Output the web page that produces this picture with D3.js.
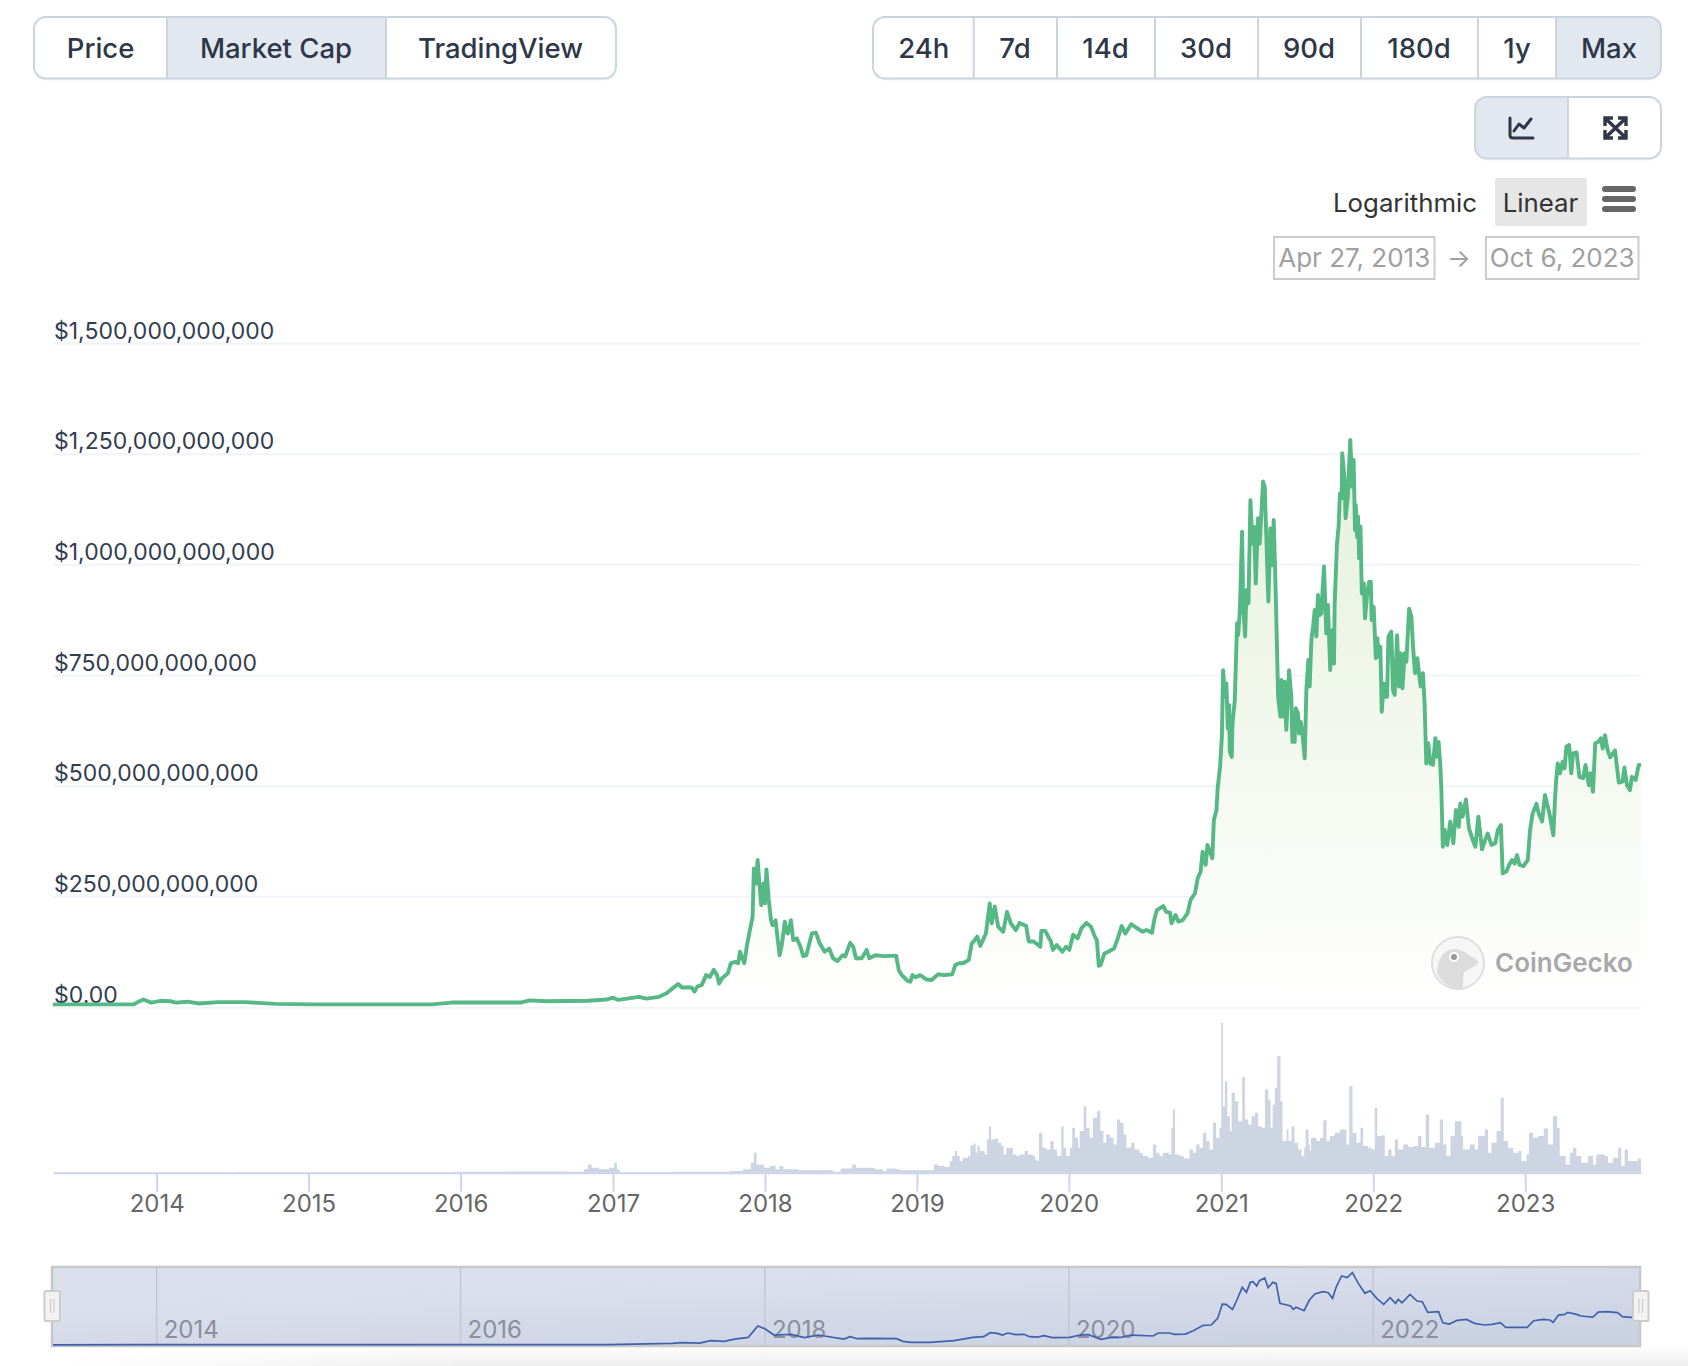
<!DOCTYPE html>
<html>
<head>
<meta charset="utf-8">
<title>Bitcoin market cap</title>
<script src="https://cdn.jsdelivr.net/npm/d3@7"></script>
<style>
    html, body { margin: 0; background: #fff; }
    svg { display: block; font-family: Inter, "Noto Sans", sans-serif; }
</style>
</head>
<body>
<svg id="chart" width="1688" height="1366"></svg>
<script>
/* Market cap: time in decimal years, values in billions of USD */
var capYears = [
    2013.318, 2013.851, 2013.881, 2013.913, 2013.964, 2014.027, 2014.090, 2014.127, 2014.203, 2014.278,
    2014.404, 2014.580, 2014.781, 2015.033, 2015.612, 2015.813, 2015.939, 2016.392, 2016.455, 2016.568,
    2016.838, 2016.963, 2017.001, 2017.034, 2017.114, 2017.170, 2017.220, 2017.303, 2017.353, 2017.391,
    2017.429, 2017.454, 2017.517, 2017.537, 2017.555, 2017.585, 2017.613, 2017.638, 2017.663, 2017.685,
    2017.698, 2017.718, 2017.756, 2017.776, 2017.806, 2017.824, 2017.836, 2017.864, 2017.882, 2017.899,
    2017.919, 2017.927, 2017.940, 2017.952, 2017.965, 2017.975, 2017.990, 2018.000, 2018.010, 2018.025,
    2018.040, 2018.050, 2018.070, 2018.096, 2018.111, 2018.131, 2018.141, 2018.151, 2018.171, 2018.186,
    2018.209, 2018.234, 2018.252, 2018.272, 2018.309, 2018.335, 2018.360, 2018.393, 2018.423, 2018.448,
    2018.478, 2018.511, 2018.528, 2018.561, 2018.581, 2018.599, 2018.637, 2018.669, 2018.687, 2018.725,
    2018.787, 2018.863, 2018.881, 2018.901, 2018.938, 2018.956, 2018.971, 2018.989, 2019.022, 2019.064,
    2019.097, 2019.140, 2019.178, 2019.233, 2019.253, 2019.278, 2019.303, 2019.341, 2019.361, 2019.374,
    2019.397, 2019.417, 2019.454, 2019.479, 2019.492, 2019.512, 2019.535, 2019.568, 2019.593, 2019.618,
    2019.651, 2019.676, 2019.719, 2019.736, 2019.769, 2019.812, 2019.819, 2019.844, 2019.882, 2019.895,
    2019.920, 2019.957, 2019.982, 2020.003, 2020.028, 2020.058, 2020.083, 2020.116, 2020.146, 2020.171,
    2020.184, 2020.197, 2020.209, 2020.234, 2020.259, 2020.297, 2020.322, 2020.347, 2020.372, 2020.410,
    2020.448, 2020.485, 2020.510, 2020.547, 2020.564, 2020.579, 2020.621, 2020.641, 2020.666, 2020.675,
    2020.702, 2020.720, 2020.749, 2020.781, 2020.801, 2020.830, 2020.848, 2020.867, 2020.880, 2020.900,
    2020.912, 2020.944, 2020.954, 2020.971, 2020.979, 2020.995, 2021.004, 2021.012, 2021.025, 2021.034,
    2021.043, 2021.052, 2021.056, 2021.069, 2021.074, 2021.089, 2021.104, 2021.111, 2021.122, 2021.137,
    2021.144, 2021.157, 2021.166, 2021.179, 2021.192, 2021.205, 2021.216, 2021.227, 2021.242, 2021.253,
    2021.275, 2021.286, 2021.310, 2021.323, 2021.334, 2021.345, 2021.358, 2021.374, 2021.389, 2021.396,
    2021.407, 2021.417, 2021.428, 2021.446, 2021.461, 2021.468, 2021.483, 2021.490, 2021.505, 2021.512,
    2021.523, 2021.534, 2021.549, 2021.560, 2021.573, 2021.582, 2021.593, 2021.604, 2021.615, 2021.626,
    2021.636, 2021.647, 2021.658, 2021.676, 2021.691, 2021.702, 2021.717, 2021.731, 2021.742, 2021.746,
    2021.761, 2021.772, 2021.781, 2021.792, 2021.796, 2021.812, 2021.818, 2021.833, 2021.849, 2021.862,
    2021.871, 2021.880, 2021.885, 2021.894, 2021.900, 2021.907, 2021.916, 2021.925, 2021.938, 2021.946,
    2021.960, 2021.973, 2021.984, 2021.990, 2022.003, 2022.017, 2022.027, 2022.038, 2022.047, 2022.056,
    2022.069, 2022.078, 2022.091, 2022.100, 2022.119, 2022.130, 2022.141, 2022.157, 2022.170, 2022.181,
    2022.192, 2022.207, 2022.218, 2022.236, 2022.251, 2022.262, 2022.275, 2022.290, 2022.301, 2022.312,
    2022.327, 2022.338, 2022.349, 2022.362, 2022.376, 2022.393, 2022.409, 2022.420, 2022.430, 2022.441,
    2022.448, 2022.458, 2022.470, 2022.487, 2022.507, 2022.527, 2022.544, 2022.563, 2022.573, 2022.588,
    2022.610, 2022.630, 2022.655, 2022.672, 2022.692, 2022.716, 2022.736, 2022.753, 2022.778, 2022.803,
    2022.820, 2022.840, 2022.852, 2022.876, 2022.894, 2022.914, 2022.931, 2022.946, 2022.963, 2022.988,
    2023.017, 2023.032, 2023.049, 2023.074, 2023.086, 2023.111, 2023.130, 2023.148, 2023.160, 2023.185,
    2023.197, 2023.204, 2023.214, 2023.229, 2023.246, 2023.259, 2023.271, 2023.289, 2023.303, 2023.315,
    2023.338, 2023.357, 2023.382, 2023.397, 2023.419, 2023.431, 2023.446, 2023.461, 2023.481, 2023.498,
    2023.510, 2023.525, 2023.542, 2023.559, 2023.591, 2023.616, 2023.640, 2023.653, 2023.670, 2023.690,
    2023.702, 2023.727, 2023.747, 2023.762
];
var capValues = [
    6, 6, 12, 17, 10, 14, 13, 10, 12, 8,
    11, 11, 7, 6, 6, 6, 10, 10, 15, 13,
    14, 17, 21, 16, 20, 23, 19, 23, 31, 42,
    52, 44, 44, 35, 46, 50, 72, 68, 84, 72,
    53, 65, 76, 99, 102, 99, 125, 99, 140, 170,
    204, 313, 279, 332, 272, 230, 279, 234, 311, 242,
    196, 185, 196, 117, 140, 193, 170, 166, 196, 151,
    155, 136, 115, 117, 166, 168, 144, 125, 132, 110,
    104, 117, 114, 145, 136, 110, 110, 129, 110, 117,
    115, 116, 83, 72, 59, 57, 72, 67, 72, 62,
    61, 74, 72, 74, 95, 99, 99, 106, 144, 148,
    159, 138, 166, 234, 189, 227, 181, 170, 215, 189,
    174, 190, 183, 148, 148, 136, 172, 172, 148, 129,
    140, 125, 136, 129, 163, 155, 178, 190, 181, 159,
    151, 93, 95, 121, 125, 132, 155, 183, 166, 187,
    178, 170, 174, 168, 200, 219, 228, 215, 213, 189,
    208, 193, 196, 212, 242, 257, 291, 306, 351, 321,
    366, 336, 422, 445, 494, 543, 611, 761, 701, 731,
    629, 682, 577, 565, 641, 693, 867, 840, 893, 1074,
    912, 837, 942, 912, 1145, 1047, 1085, 957, 1104, 1047,
    1187, 1175, 916, 1081, 998, 1100, 942, 701, 656, 739,
    656, 735, 626, 761, 701, 599, 599, 675, 663, 618,
    644, 618, 562, 716, 784, 724, 829, 859, 897, 837,
    931, 885, 889, 995, 844, 908, 761, 852, 776, 908,
    1044, 1085, 1160, 1149, 1251, 1190, 1104, 1153, 1281, 1175,
    1236, 1077, 1134, 1062, 1108, 1014, 1085, 934, 957, 878,
    934, 961, 961, 874, 904, 788, 833, 791, 814, 667,
    731, 701, 701, 837, 848, 716, 705, 840, 724, 799,
    720, 799, 780, 900, 882, 814, 754, 788, 754, 724,
    754, 686, 550, 596, 550, 547, 607, 565, 599, 550,
    494, 362, 400, 366, 419, 370, 445, 407, 460, 430,
    469, 404, 377, 362, 430, 356, 377, 392, 366, 370,
    400, 411, 302, 306, 321, 332, 324, 343, 321, 318,
    332, 400, 437, 459, 441, 419, 479, 453, 437, 388,
    475, 513, 550, 528, 554, 539, 588, 592, 528, 573,
    575, 520, 517, 547, 501, 528, 486, 596, 599, 607,
    584, 614, 581, 564, 580, 507, 509, 541, 501, 490,
    520, 513, 547, 547
];

/* Trading volume, billions of USD, each value holds until the next time */
var volYears = [
    2013.318, 2014.530, 2014.550, 2015.950, 2016.300, 2016.700, 2016.762, 2016.812, 2016.838, 2016.863,
    2016.913, 2016.976, 2017.009, 2017.026, 2017.044, 2017.391, 2017.768, 2017.856, 2017.907, 2017.927,
    2017.945, 2017.995, 2018.033, 2018.070, 2018.096, 2018.121, 2018.221, 2018.448, 2018.498, 2018.574,
    2018.599, 2018.725, 2018.775, 2018.800, 2018.863, 2018.887, 2018.975, 2019.095, 2019.111, 2019.139,
    2019.183, 2019.216, 2019.233, 2019.249, 2019.264, 2019.282, 2019.303, 2019.336, 2019.352, 2019.374,
    2019.387, 2019.398, 2019.413, 2019.446, 2019.461, 2019.474, 2019.488, 2019.512, 2019.534, 2019.556,
    2019.571, 2019.588, 2019.621, 2019.632, 2019.654, 2019.676, 2019.709, 2019.731, 2019.764, 2019.777,
    2019.790, 2019.803, 2019.825, 2019.851, 2019.878, 2019.900, 2019.922, 2019.950, 2019.965, 2019.983,
    2020.005, 2020.022, 2020.040, 2020.060, 2020.071, 2020.097, 2020.115, 2020.136, 2020.158, 2020.185,
    2020.207, 2020.228, 2020.246, 2020.272, 2020.294, 2020.316, 2020.338, 2020.360, 2020.378, 2020.410,
    2020.432, 2020.465, 2020.487, 2020.520, 2020.553, 2020.575, 2020.597, 2020.619, 2020.658, 2020.674,
    2020.684, 2020.698, 2020.728, 2020.755, 2020.794, 2020.816, 2020.838, 2020.860, 2020.882, 2020.904,
    2020.926, 2020.948, 2020.969, 2020.991, 2021.000, 2021.011, 2021.024, 2021.040, 2021.057, 2021.068,
    2021.090, 2021.112, 2021.138, 2021.156, 2021.178, 2021.199, 2021.221, 2021.243, 2021.265, 2021.287,
    2021.309, 2021.325, 2021.338, 2021.353, 2021.368, 2021.390, 2021.403, 2021.430, 2021.443, 2021.462,
    2021.482, 2021.506, 2021.528, 2021.546, 2021.555, 2021.574, 2021.583, 2021.590, 2021.627, 2021.649,
    2021.671, 2021.693, 2021.715, 2021.747, 2021.780, 2021.824, 2021.842, 2021.864, 2021.890, 2021.916,
    2021.934, 2021.967, 2021.989, 2022.010, 2022.026, 2022.054, 2022.076, 2022.098, 2022.120, 2022.142,
    2022.164, 2022.197, 2022.230, 2022.267, 2022.295, 2022.317, 2022.346, 2022.368, 2022.405, 2022.438,
    2022.460, 2022.482, 2022.508, 2022.537, 2022.580, 2022.591, 2022.635, 2022.668, 2022.690, 2022.734,
    2022.756, 2022.778, 2022.811, 2022.839, 2022.859, 2022.887, 2022.920, 2022.953, 2022.975, 2023.008,
    2023.025, 2023.052, 2023.085, 2023.122, 2023.150, 2023.183, 2023.210, 2023.227, 2023.267, 2023.293,
    2023.315, 2023.337, 2023.369, 2023.413, 2023.446, 2023.468, 2023.523, 2023.545, 2023.578, 2023.611,
    2023.632, 2023.654, 2023.676, 2023.709, 2023.742, 2023.762
];
var volValues = [
    0.3, 1, 0.3, 1, 1.5, 1, 1, 4, 10, 6,
    4, 6, 12, 4, 0.5, 1, 2, 4, 12, 24,
    10, 6, 8, 4, 8, 4, 3, 1, 5, 10,
    6, 4, 2, 5, 4, 3, 3, 3, 10, 8,
    7, 14, 20, 26, 20, 14, 18, 20, 33, 35,
    24, 32, 26, 22, 40, 56, 40, 41, 36, 32,
    22, 30, 30, 22, 20, 22, 26, 22, 20, 16,
    14, 48, 30, 28, 38, 28, 20, 56, 30, 20,
    30, 54, 42, 30, 50, 80, 54, 42, 66, 74,
    50, 36, 46, 42, 34, 64, 60, 46, 30, 36,
    28, 24, 20, 18, 34, 24, 20, 24, 22, 54,
    76, 22, 20, 17, 28, 24, 34, 30, 48, 38,
    28, 60, 42, 54, 180, 80, 110, 68, 50, 96,
    86, 62, 115, 64, 58, 68, 72, 56, 54, 100,
    88, 54, 82, 102, 140, 86, 38, 52, 38, 56,
    36, 28, 20, 30, 52, 34, 26, 42, 38, 42,
    63, 38, 44, 48, 52, 34, 104, 48, 36, 54,
    32, 30, 28, 78, 44, 45, 20, 28, 20, 40,
    28, 34, 31, 32, 44, 31, 70, 30, 36, 64,
    34, 20, 44, 62, 44, 28, 34, 28, 44, 52,
    24, 36, 50, 90, 38, 30, 24, 26, 14, 22,
    48, 42, 44, 53, 34, 68, 54, 20, 10, 24,
    30, 20, 12, 20, 10, 22, 20, 12, 18, 30,
    8, 28, 14, 14, 17, 17
];

/* Smoothed series of the range selector at the bottom */
var navYears = [
    2013.318, 2013.890, 2016.970, 2017.390, 2017.447, 2017.571, 2017.642, 2017.730, 2017.800, 2017.890,
    2017.953, 2017.995, 2018.060, 2018.173, 2018.260, 2018.350, 2018.519, 2018.561, 2018.607, 2018.678,
    2018.866, 2018.908, 2018.961, 2019.085, 2019.244, 2019.368, 2019.439, 2019.482, 2019.528, 2019.563,
    2019.598, 2019.651, 2019.705, 2019.740, 2019.793, 2019.836, 2019.892, 2020.005, 2020.076, 2020.129,
    2020.211, 2020.271, 2020.342, 2020.412, 2020.554, 2020.589, 2020.660, 2020.695, 2020.766, 2020.819,
    2020.883, 2020.936, 2020.979, 2021.007, 2021.032, 2021.074, 2021.103, 2021.138, 2021.166, 2021.191,
    2021.209, 2021.233, 2021.251, 2021.286, 2021.308, 2021.339, 2021.361, 2021.386, 2021.456, 2021.474,
    2021.492, 2021.545, 2021.580, 2021.616, 2021.669, 2021.704, 2021.732, 2021.757, 2021.792, 2021.828,
    2021.863, 2021.899, 2021.945, 2021.980, 2022.023, 2022.069, 2022.111, 2022.147, 2022.164, 2022.189,
    2022.242, 2022.288, 2022.323, 2022.359, 2022.430, 2022.458, 2022.500, 2022.553, 2022.614, 2022.667,
    2022.731, 2022.783, 2022.837, 2022.872, 2023.013, 2023.056, 2023.120, 2023.162, 2023.184, 2023.219,
    2023.261, 2023.279, 2023.339, 2023.367, 2023.445, 2023.481, 2023.537, 2023.608, 2023.640, 2023.693,
    2023.762
];
var navValues = [
    3, 5, 7, 28, 40, 34, 75, 63, 103, 132,
    329, 289, 173, 185, 127, 173, 103, 144, 109, 115,
    109, 63, 46, 46, 75, 132, 144, 213, 202, 173,
    208, 179, 185, 144, 138, 161, 127, 132, 173, 179,
    98, 127, 132, 173, 156, 208, 208, 185, 190, 248,
    341, 347, 462, 711, 706, 619, 781, 1001, 914, 1088,
    1099, 1024, 1117, 1163, 995, 1088, 1070, 723, 677, 619,
    654, 596, 781, 885, 926, 908, 810, 1012, 1198, 1169,
    1256, 1082, 897, 943, 810, 706, 821, 723, 792, 734,
    879, 763, 752, 567, 578, 387, 364, 428, 445, 376,
    347, 358, 387, 306, 306, 422, 445, 434, 393, 520,
    532, 567, 532, 503, 486, 572, 578, 561, 491, 480,
    480
];

var yTickValues = [0, 250, 500, 750, 1000, 1250, 1500];
var xTickYears = [2014, 2015, 2016, 2017, 2018, 2019, 2020, 2021, 2022, 2023];
var navTickYears = [2014, 2016, 2018, 2020, 2022];

var rangeTabs = ["Price", "Market Cap", "TradingView"];
var periodTabs = ["24h", "7d", "14d", "30d", "90d", "180d", "1y", "Max"];

/* decimal year -> Date */
function yearToDate(y) {
    var whole = Math.floor(y);
    return new Date(Date.UTC(whole, 0, 1) + (y - whole) * 365 * 864e5);
}

var svg = d3.select("#chart");
var defs = svg.append("defs");

/* Layout constants */
var plotLeft = 53, plotRight = 1641;
var plotTop = 343, plotBottom = 1007, volBottom = 1172.7, volTop = 1023;
var navTop = 1267, navBottom = 1346;

var x = d3.scaleUtc()
    .domain([yearToDate(2013.318), yearToDate(2023.762)])
    .range([plotLeft, plotRight]);
var y = d3.scaleLinear().domain([0, 1500]).range([plotBottom, plotTop]);
var yVol = d3.scaleLinear().domain([0, 180]).range([volBottom, volTop]);
var yNav = d3.scaleLinear().domain([0, 1250]).range([1345, 1273]);

/* gradients */
var areaGrad = defs.append("linearGradient").attr("id", "areaGrad")
    .attr("gradientUnits", "userSpaceOnUse")
    .attr("x1", 0).attr("x2", 0).attr("y1", 420).attr("y2", plotBottom);
areaGrad.append("stop").attr("offset", 0).attr("stop-color", "#e3efd8");
areaGrad.append("stop").attr("offset", 1).attr("stop-color", "#ffffff");

var navGrad = defs.append("linearGradient").attr("id", "navGrad")
    .attr("x1", 0).attr("y1", 0).attr("x2", 0.8).attr("y2", 1);
navGrad.append("stop").attr("offset", 0.3).attr("stop-color", "#dbe0ed");
navGrad.append("stop").attr("offset", 1).attr("stop-color", "#cad1e1");

/* faint page shadow under the chart */
var shadeGrad = defs.append("linearGradient").attr("id", "shadeGrad")
    .attr("x1", 0).attr("x2", 0).attr("y1", 0).attr("y2", 1);
shadeGrad.append("stop").attr("offset", 0).attr("stop-color", "#fff");
shadeGrad.append("stop").attr("offset", 1).attr("stop-color", "#eeeeee");
var fadeGrad = defs.append("linearGradient").attr("id", "fadeGrad");
fadeGrad.append("stop").attr("offset", 0).attr("stop-color", "#000");
fadeGrad.append("stop").attr("offset", 0.25).attr("stop-color", "#fff");
defs.append("mask").attr("id", "fadeMask")
    .attr("maskUnits", "userSpaceOnUse")
    .attr("x", 60).attr("y", 1340).attr("width", 1628).attr("height", 26)
    .append("rect").attr("x", 60).attr("y", 1340).attr("width", 1628).attr("height", 26)
    .attr("fill", "url(#fadeGrad)");
svg.append("rect").attr("x", 60).attr("y", 1344).attr("width", 1628).attr("height", 22)
    .attr("fill", "url(#shadeGrad)").attr("mask", "url(#fadeMask)");

/* y axis with long grid lines, labels sit above the lines */
var yAxis = d3.axisRight(y)
    .tickValues(yTickValues)
    .tickSize(plotRight - plotLeft)
    .tickFormat(function (d) {
        return d === 0 ? "$0.00" : "$" + d3.format(",.0f")(d * 1e9);
    });
var yG = svg.append("g").attr("transform", "translate(" + plotLeft + ",0)").call(yAxis);
yG.select(".domain").remove();
yG.selectAll("line").attr("stroke", "#f0f3f8").attr("stroke-width", 2);
yG.selectAll("text")
    .attr("x", 1).attr("dy", "-5px")
    .attr("text-anchor", "start")
    .attr("font-family", "Inter")
    .attr("font-size", 23)
    .attr("fill", "#333d50");

/* market cap area + line */
var cap = capYears.map(function (t, i) { return { date: yearToDate(t), value: capValues[i] }; });
svg.append("path").datum(cap)
    .attr("fill", "url(#areaGrad)")
    .attr("fill-opacity", 0.95)
    .attr("d", d3.area().x(function (d) { return x(d.date); }).y0(plotBottom).y1(function (d) { return y(d.value); }));

/* logo goes between the area and the line */
var logo = svg.append("g").attr("transform", "translate(1458,963)");
logo.append("circle").attr("r", 26).attr("fill", "#f6f6f6").attr("stroke", "#dedede").attr("stroke-width", 2);
logo.append("path").attr("fill", "#dcdcdc")
    .attr("d", "M-21,10 C-20,-5 -14,-14 -4,-14 C4,-14 8,-10 12,-7 C17,-5 21,-3 20,0 C18,4 8,7 6,9 C5,15 6,20 4,25 C-5,27 -15,22 -21,10 Z");
logo.append("circle").attr("cx", -4).attr("cy", -6).attr("r", 5).attr("fill", "#fff");
logo.append("circle").attr("cx", -4).attr("cy", -6).attr("r", 3).attr("fill", "#999");
svg.append("text").attr("x", 1495).attr("y", 972)
    .attr("font-size", 26).attr("font-weight", 600).attr("fill", "#a8a8a8")
    .text("CoinGecko");

svg.append("path").datum(cap)
    .attr("fill", "none")
    .attr("stroke", "#56b885")
    .attr("stroke-width", 3.9)
    .attr("stroke-linejoin", "round")
    .attr("d", d3.line().x(function (d) { return x(d.date); }).y(function (d) { return y(d.value); }));

/* volume */
var vol = volYears.map(function (t, i) { return { date: yearToDate(t), value: volValues[i] }; });
svg.append("path").datum(vol)
    .attr("fill", "#ced5e2")
    .attr("d", d3.area().curve(d3.curveStepAfter)
        .x(function (d) { return x(d.date); }).y0(volBottom).y1(function (d) { return yVol(d.value); }));

/* x axis */
var xAxis = d3.axisBottom(x)
    .tickValues(xTickYears.map(yearToDate))
    .tickSizeInner(19)
    .tickSizeOuter(0)
    .tickPadding(3)
    .tickFormat(d3.utcFormat("%Y"));
var xG = svg.append("g").attr("transform", "translate(0," + volBottom + ")").call(xAxis);
xG.select(".domain").attr("stroke", "#ccd6eb").attr("stroke-width", 2);
xG.selectAll("line").attr("stroke", "#ccd6eb").attr("stroke-width", 2);
xG.selectAll("text")
    .attr("font-family", "Inter").attr("font-size", 24).attr("fill", "#666");

/* range selector */
svg.append("rect")
    .attr("x", plotLeft - 1).attr("y", navTop).attr("width", plotRight - plotLeft).attr("height", navBottom - navTop)
    .attr("fill", "url(#navGrad)").attr("stroke", "#c8c8c8").attr("stroke-width", 2.5);
var navG = svg.append("g").selectAll("g")
    .data(navTickYears).enter().append("g")
    .attr("transform", function (d) { return "translate(" + x(yearToDate(d)) + ",0)"; });
navG.append("line").attr("y1", navTop).attr("y2", navBottom)
    .attr("stroke", "#c2c8d4").attr("stroke-width", 1.5);
navG.append("text").attr("x", 7).attr("y", 1338)
    .attr("font-size", 24).attr("fill", "#8b8f9b")
    .text(function (d) { return d; });
var nav = navYears.map(function (t, i) { return { date: yearToDate(t), value: navValues[i] }; });
svg.append("path").datum(nav)
    .attr("fill", "none").attr("stroke", "#3f61ad").attr("stroke-width", 1.7)
    .attr("d", d3.line().x(function (d) { return x(d.date); }).y(function (d) { return yNav(d.value); }));

/* handles of the selector */
[44.5, 1633].forEach(function (hx) {
    var h = svg.append("g").attr("transform", "translate(" + hx + ",1291)");
    h.append("rect").attr("width", 15.5).attr("height", 30).attr("rx", 1.5)
        .attr("fill", "#f2f2f2").attr("stroke", "#cccccc").attr("stroke-width", 2);
    [6, 9.5].forEach(function (lx) {
        h.append("line").attr("x1", lx).attr("x2", lx).attr("y1", 8).attr("y2", 22)
            .attr("stroke", "#cccccc").attr("stroke-width", 1.2);
    });
});

/* button groups on top of the chart */
function buttonGroup(id, left, right, top, bottom, dividers, activeIndex) {
    var edges = [left].concat(dividers, [right]);
    defs.append("clipPath").attr("id", id).append("rect")
        .attr("x", left).attr("y", top).attr("width", right - left).attr("height", bottom - top).attr("rx", 12);
    var g = svg.append("g");
    g.append("rect")
        .attr("x", left).attr("y", top).attr("width", right - left).attr("height", bottom - top).attr("rx", 12)
        .attr("fill", "#fff").style("filter", "drop-shadow(0 1px 1px rgba(0,0,0,0.08))");
    g.append("rect").attr("clip-path", "url(#" + id + ")")
        .attr("x", edges[activeIndex]).attr("y", top)
        .attr("width", edges[activeIndex + 1] - edges[activeIndex]).attr("height", bottom - top)
        .attr("fill", "#e2e8f0");
    dividers.forEach(function (d) {
        g.append("line").attr("x1", d).attr("x2", d).attr("y1", top).attr("y2", bottom)
            .attr("stroke", "#cbd5e0").attr("stroke-width", 2);
    });
    g.append("rect")
        .attr("x", left).attr("y", top).attr("width", right - left).attr("height", bottom - top).attr("rx", 12)
        .attr("fill", "none").attr("stroke", "#cbd5e0").attr("stroke-width", 2);
    return edges;
}

function tabLabels(labels, centers) {
    svg.append("g").selectAll("text").data(labels).enter().append("text")
        .attr("x", function (d, i) { return centers[i]; })
        .attr("y", 58)
        .attr("text-anchor", "middle")
        .attr("font-size", 27.5).attr("font-weight", 500).attr("fill", "#2d3748")
        .text(function (d) { return d; });
}

buttonGroup("tabsA", 34, 616, 17, 78.5, [167, 386], 1);
tabLabels(rangeTabs, [100.6, 276, 500.5]);
buttonGroup("tabsB", 873, 1661, 17, 78.5, [973.7, 1057, 1155, 1258, 1361, 1478, 1556], 7);
tabLabels(periodTabs, [923.7, 1015, 1105.6, 1206, 1309, 1419, 1517, 1609]);
buttonGroup("tabsC", 1475, 1661, 97, 158.5, [1568], 0);

/* little icons */
svg.append("path").attr("fill", "none").attr("stroke", "#2d3748").attr("stroke-width", 3)
    .attr("stroke-linecap", "round").attr("stroke-linejoin", "round")
    .attr("d", "M1510,118 V135 Q1510,138 1513,138 H1533 M1514,131 L1519,124 L1524,128 L1531,119");
svg.append("path").attr("fill", "none").attr("stroke", "#2d3748").attr("stroke-width", 3.4)
    .attr("d", "M1605,126 V118 H1613 M1618,118 H1626 V126 M1605,130 V138 H1613 M1618,138 H1626 V130 M1606,119 L1625,137 M1625,119 L1606,137");

/* scale switch and hamburger */
svg.append("text").attr("x", 1333).attr("y", 212)
    .attr("font-size", 25.8).attr("fill", "#333").text("Logarithmic");
svg.append("rect").attr("x", 1495).attr("y", 178).attr("width", 92).attr("height", 48).attr("rx", 2)
    .attr("fill", "#e6e6e6");
svg.append("text").attr("x", 1540.5).attr("y", 212).attr("text-anchor", "middle")
    .attr("font-size", 25.8).attr("fill", "#333").text("Linear");
[186, 196, 206].forEach(function (by) {
    svg.append("rect").attr("x", 1602).attr("y", by).attr("width", 34).attr("height", 6).attr("rx", 3).attr("fill", "#666");
});

/* date range boxes */
[[1274, 1434.5, "Apr 27, 2013"], [1486, 1638.5, "Oct 6, 2023"]].forEach(function (b) {
    svg.append("rect").attr("x", b[0]).attr("y", 237).attr("width", b[1] - b[0]).attr("height", 42)
        .attr("fill", "#fff").attr("stroke", "#cccccc").attr("stroke-width", 2);
    svg.append("text").attr("x", (b[0] + b[1]) / 2).attr("y", 267).attr("text-anchor", "middle")
        .attr("font-size", 26).attr("fill", "#a0a0a0").text(b[2]);
});
svg.append("text").attr("x", 1459).attr("y", 267).attr("text-anchor", "middle")
    .attr("font-size", 25).attr("fill", "#a0a0a0").text("→");
</script>
</body>
</html>
